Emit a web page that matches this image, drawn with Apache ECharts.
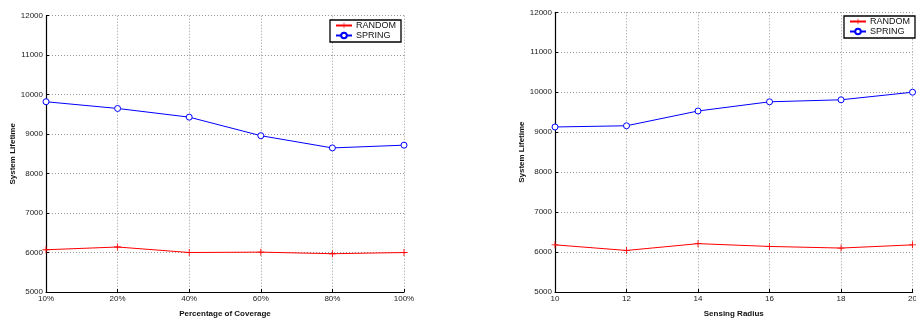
<!DOCTYPE html>
<html>
<head>
<meta charset="utf-8">
<script src="https://cdn.jsdelivr.net/npm/echarts@6/dist/echarts.min.js"></script>
<style>
  html, body { margin: 0; padding: 0; background: #fff; overflow: hidden; }
  #chart { width: 920px; height: 323px; }
</style>
</head>
<body>
<div id="chart"></div>
<script>
// Left panel: lifetime vs. percentage of coverage
const coverageCategories = ['10%', '20%', '40%', '60%', '80%', '100%'];
const coverageRandom = [6070, 6140, 6000, 6010, 5970, 6000];
const coverageSpring = [9820, 9650, 9430, 8960, 8650, 8720];

// Right panel: lifetime vs. sensing radius
const radiusValues = [10, 12, 14, 16, 18, 20];
const radiusRandom = [6180, 6040, 6210, 6140, 6100, 6180];
const radiusSpring = [9130, 9160, 9530, 9760, 9810, 10000];

const yTicks = { min: 5000, max: 12000, interval: 1000 };

const FONT = '"Liberation Sans", Arial, Helvetica, sans-serif';
const RED = '#ff0000';
const BLUE = '#0000ff';
const PLUS = 'path://M4.4,0 H5.6 V4.4 H10 V5.6 H5.6 V10 H4.4 V5.6 H0 V4.4 H4.4 Z';

const axisLine = { show: true, lineStyle: { color: '#000', width: 1.2 } };
const axisTick = { show: true, inside: true, length: 3, lineStyle: { color: '#000' } };
const gridLine = { show: true, lineStyle: { color: '#999', width: 1, type: [1, 2] } };
const tickLabel = { fontFamily: FONT, fontSize: 8, color: '#222' };
const nameText = { fontFamily: FONT, fontSize: 8, fontWeight: 'bold', color: '#111' };

function yAxis(gridIndex, gap) {
  return {
    type: 'value', gridIndex,
    min: yTicks.min, max: yTicks.max, interval: yTicks.interval,
    name: 'System Lifetime', nameLocation: 'middle', nameGap: gap, nameTextStyle: nameText,
    axisLine, axisTick, splitLine: gridLine,
    axisLabel: Object.assign({ margin: 3, formatter: v => String(v) }, tickLabel)
  };
}

function randomSeries(axis, data) {
  return {
    name: 'RANDOM', type: 'line', xAxisIndex: axis, yAxisIndex: axis, data,
    symbol: PLUS, symbolSize: 7, showSymbol: true,
    lineStyle: { color: RED, width: 1 }, itemStyle: { color: RED, borderWidth: 0 },
    animation: false
  };
}

function springSeries(axis, data) {
  return {
    name: 'SPRING', type: 'line', xAxisIndex: axis, yAxisIndex: axis, data,
    symbol: 'circle', symbolSize: 6, showSymbol: true,
    lineStyle: { color: BLUE, width: 1 },
    itemStyle: { color: '#fff', borderColor: BLUE, borderWidth: 1 },
    animation: false
  };
}

function legend(left, top) {
  return {
    orient: 'vertical', left, top,
    data: ['RANDOM', 'SPRING'],
    backgroundColor: '#fff', borderColor: '#000', borderWidth: 1.3,
    padding: [1, 5, 2, 5], itemGap: 1, itemWidth: 16, itemHeight: 7,
    textStyle: { fontFamily: FONT, fontSize: 9, color: '#111', padding: [0, 0, 0, -1] },
    selectedMode: false
  };
}

const chart = echarts.init(document.getElementById('chart'), null, { renderer: 'canvas' });
chart.setOption({
  backgroundColor: '#fff',
  animation: false,
  grid: [
    { left: 46, top: 15.7, width: 358, height: 280 },
    { left: 555, top: 12.3, width: 361.7, height: 282.7 }
  ],
  xAxis: [
    {
      type: 'category', gridIndex: 0, data: coverageCategories, boundaryGap: false,
      name: 'Percentage of Coverage', nameLocation: 'middle', nameGap: 18, nameTextStyle: nameText,
      axisLine, axisTick: Object.assign({ alignWithLabel: true }, axisTick), splitLine: gridLine,
      axisLabel: Object.assign({ margin: 3, interval: 0 }, tickLabel)
    },
    {
      type: 'value', gridIndex: 1, min: 10, max: 20, interval: 2,
      name: 'Sensing Radius', nameLocation: 'middle', nameGap: 18, nameTextStyle: nameText,
      axisLine, axisTick, splitLine: gridLine,
      axisLabel: Object.assign({ margin: 3 }, tickLabel)
    }
  ],
  yAxis: [yAxis(0, 24), yAxis(1, 25)],
  legend: [legend(330, 20), legend(844, 16)],
  series: [
    randomSeries(0, coverageRandom),
    springSeries(0, coverageSpring),
    randomSeries(1, radiusValues.map((r, i) => [r, radiusRandom[i]])),
    springSeries(1, radiusValues.map((r, i) => [r, radiusSpring[i]]))
  ]
});
</script>
</body>
</html>
